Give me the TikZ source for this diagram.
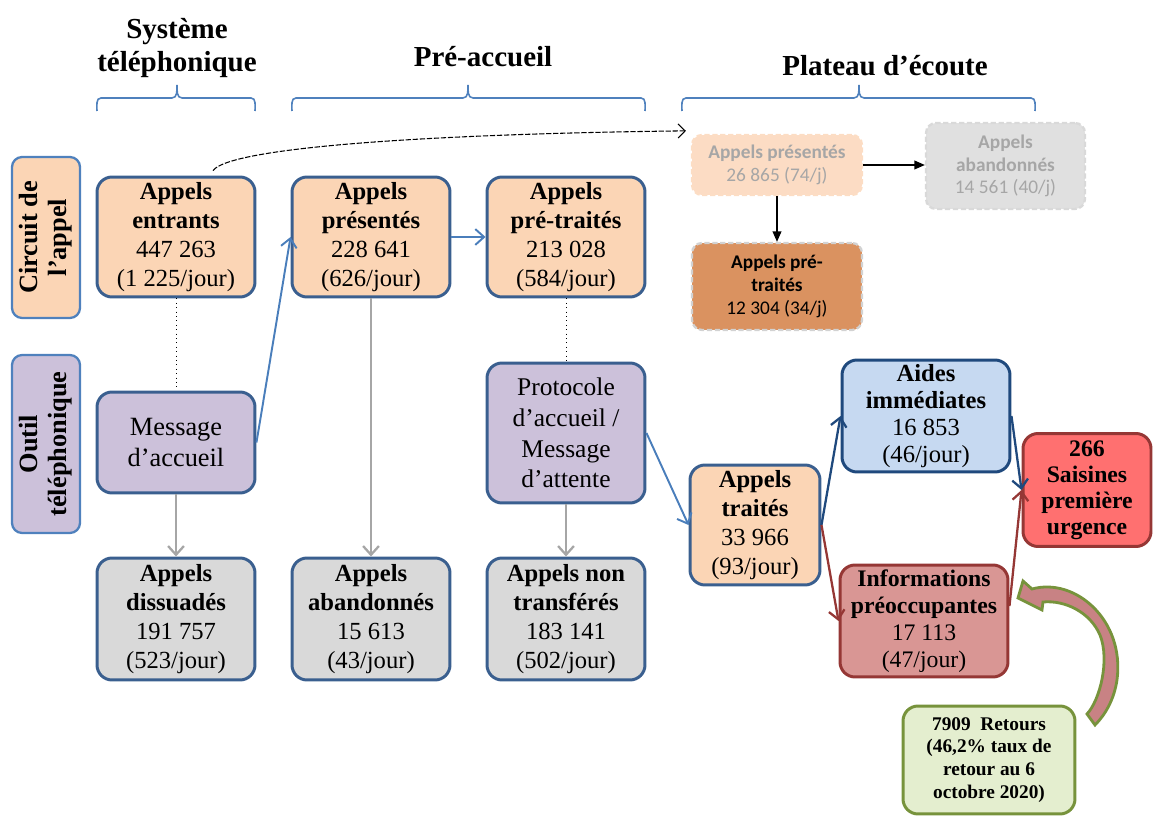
\documentclass[tikz,border=0pt]{standalone}
\usepackage{fontspec}
\setmainfont{Liberation Serif}
\newfontfamily\calib{Carlito}
\usetikzlibrary{arrows.meta,calc}
\definecolor{peach}{HTML}{FBD5B5}
\definecolor{lav}{HTML}{CCC1DA}
\definecolor{greyf}{HTML}{D9D9D9}
\definecolor{bord}{HTML}{3A5F8F}
\definecolor{arrblue}{HTML}{4A7EBB}
\definecolor{darkblue}{HTML}{1F497D}
\definecolor{darkred}{HTML}{953735}
\definecolor{aidesf}{HTML}{C6D9F1}
\definecolor{infof}{HTML}{D99694}
\definecolor{saisf}{HTML}{FF7070}
\definecolor{retf}{HTML}{E4EECF}
\definecolor{greenb}{HTML}{77933C}
\definecolor{pinkarr}{HTML}{C88284}
\definecolor{fadetxt}{HTML}{A6A6A6}
\definecolor{fadepeach}{HTML}{FCDCC4}
\definecolor{fadegrey}{HTML}{E0E0E0}
\definecolor{orangef}{HTML}{DA9260}
\definecolor{bracec}{HTML}{4F81BD}
\definecolor{arrgrey}{HTML}{A6A6A6}
\tikzset{
  box/.style={draw=bord, line width=1.7pt, rounded corners=0.3cm, align=center, inner sep=0pt,
    font=\fontsize{14}{16.5}\selectfont},
  sidebox/.style={draw=bracec, line width=1.3pt, rounded corners=0.2cm, align=center, inner sep=0pt,
    rotate=90, minimum width=3.22cm, minimum height=1.36cm, font=\bfseries\fontsize{15}{16.5}\selectfont},
  fadebox/.style={dashed, dash pattern=on 3pt off 1.5pt, line width=1.3pt, rounded corners=0.2cm, align=center, inner sep=0pt,
    font=\calib\fontsize{11}{13}\selectfont},
  header/.style={font=\bfseries\fontsize{16.5}{18.7}\selectfont, align=center, inner sep=0pt},
  bracepath/.style={draw=bracec, line width=0.9pt},
  greyarrow/.style={draw=arrgrey, line width=1.3pt, -{Straight Barb[length=5pt,width=9pt]}},
  bluearrow/.style={draw=arrblue, line width=1.1pt, -{Straight Barb[length=5pt,width=9pt]}},
  dbarrow/.style={draw=darkblue, line width=1.3pt, -{Straight Barb[length=5pt,width=9pt]}},
  drarrow/.style={draw=darkred, line width=1.3pt, -{Straight Barb[length=5pt,width=9pt]}},
  dotline/.style={draw=black, line width=0.5pt, dotted},
  blackarrow/.style={draw=black, line width=0.8pt, -{Triangle[length=6pt,width=5pt]}},
}
\begin{document}
\begin{tikzpicture}[x=0.02cm,y=-0.02cm]
\useasboundingbox (0,0) rectangle (1154,817);

% headers
\node[header] (h1) at (177,48) {Système\\téléphonique};
\node[header] (h2) at (483,57) {Pré-accueil};
\node[header] (h3) at (885,66) {Plateau d’écoute};

% braces
\draw[bracepath] (97,111) to[out=90,in=180] (101,98) -- (172,98) to[out=0,in=-90] (177,85) to[out=-90,in=180] (182,98) -- (251,98) to[out=0,in=90] (255,111);
\draw[bracepath] (292,111) to[out=90,in=180] (296,98) -- (463,98) to[out=0,in=-90] (468,85) to[out=-90,in=180] (473,98) -- (641,98) to[out=0,in=90] (645,111);
\draw[bracepath] (682,111) to[out=90,in=180] (686,98) -- (854,98) to[out=0,in=-90] (859,85) to[out=-90,in=180] (864,98) -- (1031,98) to[out=0,in=90] (1035,111);

% side labels
\node[sidebox, fill=peach] (s1) at (46,237.5) {Circuit de\\l’appel};
\node[sidebox, fill=lav, minimum width=3.56cm] (s2) at (46,444) {Outil\\téléphonique};

% main boxes
\node[box, fill=peach, minimum width=3.16cm, minimum height=2.4cm] (ent) at (176,237)
  {\textbf{Appels}\\\textbf{entrants}\\447 263\\(1 225/jour)};
\node[box, fill=peach, minimum width=3.16cm, minimum height=2.4cm] (pres) at (371,237)
  {\textbf{Appels}\\\textbf{présentés}\\228 641\\(626/jour)};
\node[box, fill=peach, minimum width=3.16cm, minimum height=2.4cm] (pret) at (566,237)
  {\textbf{Appels}\\\textbf{pré-traités}\\213 028\\(584/jour)};
\node[box, fill=lav, minimum width=3.16cm, minimum height=2.02cm, font=\fontsize{15}{17.5}\selectfont] (msg) at (176,442.5)
  {Message\\d’accueil};
\node[box, fill=lav, minimum width=3.16cm, minimum height=2.8cm, font=\fontsize{14.5}{17.5}\selectfont] (proto) at (566,433)
  {Protocole\\d’accueil /\\Message\\d’attente};
\node[box, fill=greyf, minimum width=3.16cm, minimum height=2.44cm] (diss) at (176,619)
  {\textbf{Appels}\\\textbf{dissuadés}\\191 757\\(523/jour)};
\node[box, fill=greyf, minimum width=3.16cm, minimum height=2.44cm] (aband) at (371,619)
  {\textbf{Appels}\\\textbf{abandonnés}\\15 613\\(43/jour)};
\node[box, fill=greyf, minimum width=3.16cm, minimum height=2.44cm] (nontr) at (566,619)
  {\textbf{Appels non}\\\textbf{transférés}\\183 141\\(502/jour)};
\node[box, fill=peach, minimum width=2.6cm, minimum height=2.4cm] (trait) at (755,525)
  {\textbf{Appels}\\\textbf{traités}\\33 966\\(93/jour)};
\node[box, draw=darkblue, fill=aidesf, minimum width=3.36cm, minimum height=2.24cm, font=\fontsize{14}{15.3}\selectfont] (aides) at (926,416)
  {\textbf{Aides}\\\textbf{immédiates}\\16 853\\(46/jour)};
\node[box, draw=darkred, fill=infof, minimum width=3.36cm, minimum height=2.24cm, font=\fontsize{13.5}{15.3}\selectfont] (info) at (924,621)
  {\textbf{Informations}\\\textbf{préoccupantes}\\17 113\\(47/jour)};
\node[box, draw=darkred, fill=saisf, minimum width=2.56cm, minimum height=2.26cm, font=\bfseries\fontsize{13.5}{14.8}\selectfont] (sais) at (1087,490)
  {266\\Saisines\\première\\urgence};
\node[box, draw=greenb, fill=retf, minimum width=3.44cm, minimum height=2.16cm, font=\bfseries\fontsize{11}{13}\selectfont] (ret) at (989,760)
  {7909~~Retours\\(46,2\% taux de\\retour au 6\\octobre 2020)};

% plateau faded boxes
\node[fadebox, draw=peach!80!white, fill=fadepeach, text=fadetxt, minimum width=3.4cm, minimum height=1.2cm] (fpres) at (777,165)
  {\textbf{Appels présentés}\\26 865 (74/j)};
\node[fadebox, draw=gray!30, fill=fadegrey, text=fadetxt, minimum width=3.18cm, minimum height=1.72cm] (faband) at (1005.5,166)
  {\textbf{Appels}\\\textbf{abandonnés}\\14 561 (40/j)};
\node[fadebox, draw=gray!35, fill=orangef, text=black, minimum width=3.4cm, minimum height=1.74cm] (fpret) at (777,286.5)
  {\textbf{Appels pré-}\\\textbf{traités}\\12 304 (34/j)};

% connectors
\draw[dotline] (ent.south) -- (msg.north);
\draw[dotline] (pret.south) -- (proto.north);
\draw[greyarrow] (msg.south) -- (diss.north);
\draw[greyarrow] (pres.south) -- (aband.north);
\draw[greyarrow] (proto.south) -- (nontr.north);
\draw[bluearrow] (msg.east) -- (pres.west);
\draw[bluearrow] (pres.east) -- (pret.west);
\draw[bluearrow] (proto.east) -- (trait.west);
\draw[dbarrow] (trait.east) -- (aides.west);
\draw[drarrow] (trait.east) -- (info.west);
\draw[dbarrow] (aides.east) -- (sais.west);
\draw[drarrow] ([yshift=0.3cm]info.east) -- (sais.west);
\coordinate (dstart) at ($(ent.north)+(37,-5)$);
\coordinate (dend) at ($(fpres.north west)+(-5,-3)$);
\draw[black, line width=0.6pt, dash pattern=on 3pt off 1pt, -{Straight Barb[length=4pt,width=8pt]}]
  (dstart) .. controls (230,148) and (420,134) .. (dend);
\draw[blackarrow] (fpres.east) -- (fpres.east -| faband.west);
\draw[blackarrow] (fpres.south) -- (fpret.north);

% green curved block arrow
\filldraw[draw=greenb, fill=pinkarr, line width=1.6pt, line join=miter]
  (1018,598) -- (1023,581) -- (1032,589)
  .. controls (1075,577) and (1125,620) .. (1117,680)
  .. controls (1114,700) and (1105,715) .. (1095,725)
  -- (1087,714)
  .. controls (1100,700) and (1110,660) .. (1100,635)
  .. controls (1090,612) and (1065,600) .. (1043,602)
  -- (1042,610) -- cycle;
\end{tikzpicture}
\end{document}
